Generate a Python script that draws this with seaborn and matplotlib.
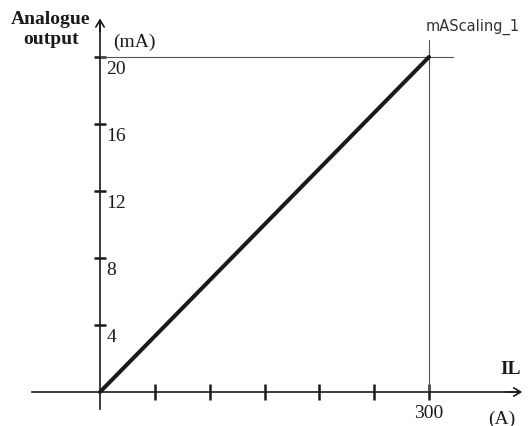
import matplotlib
matplotlib.use("Agg")
import matplotlib.pyplot as plt
import seaborn as sns
import pandas as pd

# data
current_a = [0, 300]
output_ma = [0, 20]
x_ticks = [50, 100, 150, 200, 250, 300]
y_ticks = [4, 8, 12, 16, 20]
y_labels = ["4", "8", "12", "16", "20"]
x_max = 300
y_max = 20

sns.set_style("white")
plt.rcParams["font.family"] = ["Liberation Serif", "DejaVu Serif"]

fig = plt.figure(figsize=(5.31, 4.27), dpi=100)
ax = fig.add_axes([0, 0, 1, 1])
ax.set_xlim(-91.2, 393.0)
ax.set_ylim(-2.03, 23.46)

# axes through the origin, ticks crossing the line
for side in ["top", "right"]:
    ax.spines[side].set_visible(False)
ax.spines["left"].set_position(("data", 0))
ax.spines["bottom"].set_position(("data", 0))
ax.spines["left"].set_bounds(-1.0, 22.0)
ax.spines["bottom"].set_bounds(-62, 382)
for side in ["left", "bottom"]:
    ax.spines[side].set_linewidth(1.2)
    ax.spines[side].set_color("#1a1a1a")
ax.set_xticks(x_ticks)
ax.set_yticks(y_ticks)
ax.set_xticklabels([])
ax.set_yticklabels([])
ax.tick_params(axis="x", bottom=True, direction="inout", length=11, width=1.8,
               color="#1a1a1a")
ax.tick_params(axis="y", left=True, direction="inout", length=9, width=1.8,
               color="#1a1a1a")

# open arrow heads at the axis ends
arr = dict(arrowstyle="->,head_length=0.5,head_width=0.3", lw=1.2, color="#1a1a1a",
           shrinkA=0, shrinkB=0)
ax.annotate("", xy=(385, 0), xytext=(370, 0), arrowprops=arr)
ax.annotate("", xy=(0, 22.3), xytext=(0, 21.5), arrowprops=arr)

# guide lines at full scale
ax.plot([0, 322], [y_max, y_max], color="#555555", lw=0.8)
ax.plot([x_max, x_max], [0, 21.0], color="#555555", lw=0.8)

# scaling line
df = pd.DataFrame({"IL": current_a, "mA": output_ma})
sns.lineplot(data=df, x="IL", y="mA", ax=ax, color="#1a1a1a", lw=2.9)
ax.set_xlabel("")
ax.set_ylabel("")

for v, lab in zip(y_ticks, y_labels):
    ax.text(6.0, v - 0.2, lab, ha="left", va="top", fontsize=14, color="#1a1a1a")
ax.text(x_max, -1.25, "300", ha="center", va="center", fontsize=14, color="#1a1a1a")
ax.text(11.5, 20.96, "(mA)", ha="left", va="center", fontsize=14, color="#1a1a1a")
ax.text(366.6, -1.6, "(A)", ha="center", va="center", fontsize=14, color="#1a1a1a")
ax.text(374, 1.4, "IL", ha="center", va="center", fontsize=14, fontweight="bold",
        color="#1a1a1a")
ax.text(-44.7, 21.7, "Analogue\noutput", ha="center", va="center", fontsize=14,
        fontweight="bold", multialignment="center", linespacing=1.2, color="#1a1a1a")
ax.text(340, 21.85, "mAScaling_1", ha="center", va="center", fontsize=10.5,
        family=["DejaVu Sans"], color="#333333")

fig.savefig("out.png", dpi=100)
